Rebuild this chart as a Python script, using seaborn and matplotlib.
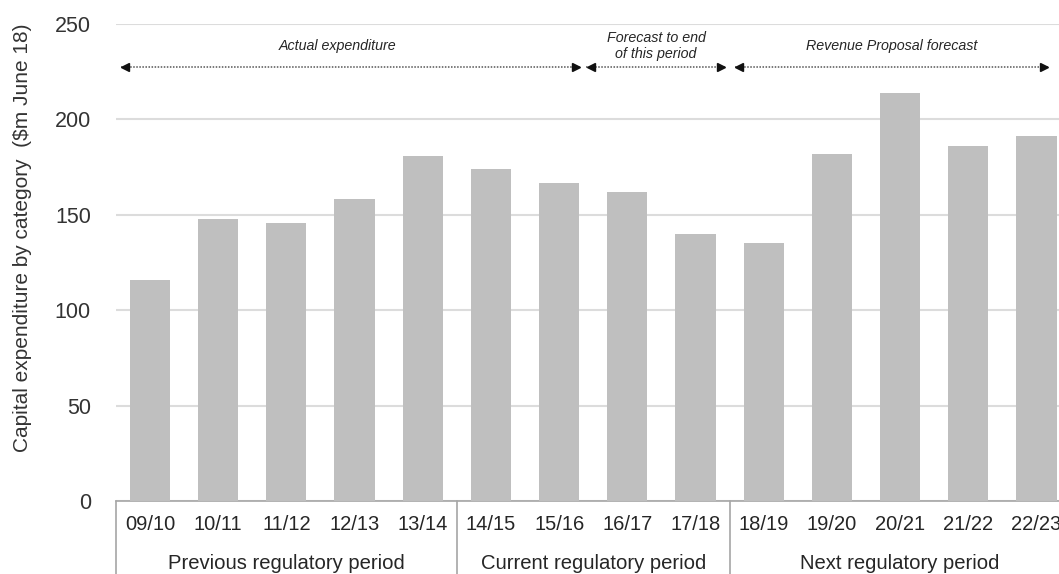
import matplotlib
matplotlib.use("Agg")
import matplotlib.pyplot as plt
import matplotlib.transforms as mtransforms
import seaborn as sns
import pandas as pd

# Financial years and capital expenditure ($m June 18)
years = ["09/10", "10/11", "11/12", "12/13", "13/14",
         "14/15", "15/16", "16/17", "17/18",
         "18/19", "19/20", "20/21", "21/22", "22/23"]
capex = [116, 147.5, 145.5, 158, 181,
         174, 166.5, 162, 140,
         135, 182, 214, 186, 191.5]

# Regulatory periods (first index, last index, label)
periods = [(0, 4, "Previous regulatory period"),
           (5, 8, "Current regulatory period"),
           (9, 13, "Next regulatory period")]

# Expenditure phase spans drawn as arrows above the bars (start, end, label)
phases = [(-0.43, 6.30, "Actual expenditure"),
          (6.40, 8.44, "Forecast to end\nof this period"),
          (8.58, 13.17, "Revenue Proposal forecast")]

sns.set_theme(style="white")
plt.rcParams["font.family"] = ["Liberation Sans", "DejaVu Sans"]

df = pd.DataFrame({"year": years, "capex": capex})

fig = plt.figure(figsize=(10.59, 5.74), dpi=100)
ax = fig.add_axes([0.1094, 0.1272, 0.9016, 0.8312])

sns.barplot(data=df, x="year", y="capex", color="#bfbfbf", saturation=1,
            width=0.59, linewidth=0, ax=ax, zorder=3)

ax.set_xlim(-0.5, len(years) - 0.5)
ax.set_ylim(0, 250)
ax.set_yticks(range(0, 251, 50))
ax.yaxis.grid(True, color="#dcdcdc", linewidth=1.5, zorder=0)
ax.set_axisbelow(True)

for side in ["left", "right", "top"]:
    ax.spines[side].set_visible(False)
ax.spines["bottom"].set_color("#a6a6a6")
ax.spines["bottom"].set_linewidth(1.2)

ax.tick_params(axis="y", length=0, pad=18, labelsize=15.5, labelcolor="#333333")
ax.tick_params(axis="x", length=0, pad=10, labelsize=14.5, labelcolor="#262626")
ax.set_xlabel("")
ax.set_ylabel("")

fig.text(0.021, 0.585, "Capital expenditure by category  ($m June 18)",
         rotation=90, ha="center", va="center", fontsize=15, color="#333333")

# Period group box under the category labels
trans = mtransforms.blended_transform_factory(ax.transData, ax.transAxes)
for start, end, label in periods:
    ax.plot([start - 0.5, start - 0.5], [0, -0.16], transform=trans,
            color="#a6a6a6", lw=1.2, clip_on=False)
    ax.text((start + end) / 2, -0.13, label, transform=trans,
            ha="center", va="center", fontsize=14.6, color="#262626")

# Phase arrows
arrow_y = 227.5
for x0, x1, label in phases:
    ax.plot([x0, x1], [arrow_y, arrow_y], color="#555555", lw=1.1,
            linestyle=(0, (1, 1)), zorder=4)
    ax.plot([x0 + 0.06], [arrow_y], marker="<", color="#111111",
            markersize=6, zorder=5, clip_on=False)
    ax.plot([x1 - 0.06], [arrow_y], marker=">", color="#111111",
            markersize=6, zorder=5, clip_on=False)
    ax.text((x0 + x1) / 2 - (0.18 if x0 < 0 else 0), 238.2, label,
            ha="center", va="center", fontsize=10.3, style="italic",
            color="#262626", linespacing=1.2)

fig.savefig("out.png", dpi=100)
